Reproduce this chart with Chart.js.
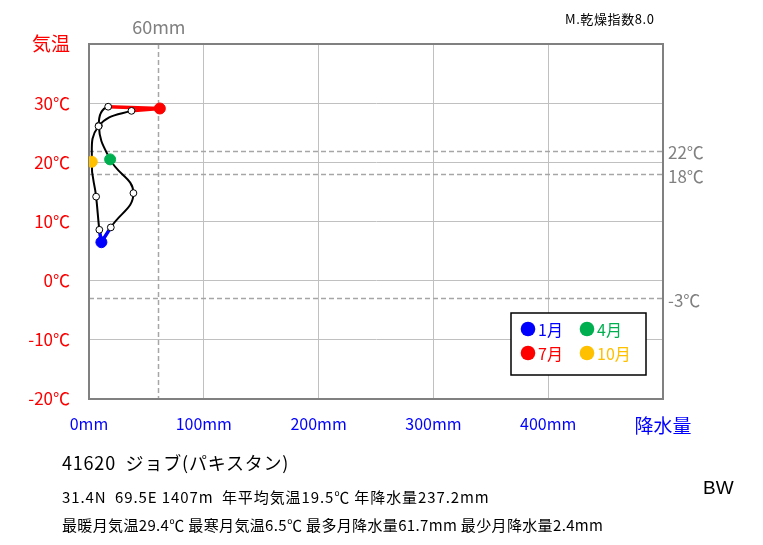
<!DOCTYPE html>
<html><head><meta charset="utf-8">
<script src="https://cdn.jsdelivr.net/npm/chart.js@4"></script>
<style>
html,body{margin:0;padding:0;background:#fff;}
#wrap{position:relative;width:763px;height:545px;overflow:hidden;}
canvas{position:absolute;left:0;top:0;}
.t{position:absolute;white-space:nowrap;font-family:'Noto Sans CJK JP',sans-serif;color:#000;line-height:1;}
</style></head><body>
<div id="wrap">
<canvas id="c" width="763" height="545"></canvas>
<div class="t" style="left:565px;top:12px;font-size:13px;letter-spacing:0.6px;">M.乾燥指数8.0</div>
<div class="t" style="left:62px;top:453px;font-size:18px;letter-spacing:0.8px;">41620&nbsp;&nbsp;ジョブ(パキスタン)</div>
<div class="t" style="left:62px;top:489px;font-size:15px;letter-spacing:0.9px;">31.4N&nbsp;&nbsp;69.5E 1407m&nbsp;&nbsp;年平均気温19.5℃ 年降水量237.2mm</div>
<div class="t" style="left:62px;top:517px;font-size:15px;letter-spacing:0.35px;">最暖月気温29.4℃ 最寒月気温6.5℃ 最多月降水量61.7mm 最少月降水量2.4mm</div>
<div class="t" style="left:703px;top:478px;font-size:19px;font-family:'Liberation Sans',Arial,sans-serif;">BW</div>
</div>
<script>
const months = ['1月','2月','3月','4月','5月','6月','7月','8月','9月','10月','11月','12月'];
const precip = [10.8, 19.0, 38.7, 18.4, 8.6, 16.7, 61.7, 37.0, 8.3, 2.4, 6.2, 9.0];
const temp   = [6.5, 9.0, 14.8, 20.5, 26.2, 29.4, 29.1, 28.7, 26.1, 20.1, 14.2, 8.6];
const xTickValues = [0, 100, 200, 300, 400, 500];
const xTickLabels = ['0mm', '100mm', '200mm', '300mm', '400mm', '降水量'];
const yTickValues = [-20, -10, 0, 10, 20, 30, 40];
const yTickLabels = ['-20℃', '-10℃', '0℃', '10℃', '20℃', '30℃', '気温'];
const refTemps = [22, 18, -3];
const refTempLabels = ['22℃', '18℃', '-3℃'];
const refPrecip = 60;
const refPrecipLabel = '60mm';
const legendMonths = [0, 3, 6, 9];
const monthColors = {0: '#0000ff', 3: '#00b050', 6: '#ff0000', 9: '#ffc000'};

const FONT = "'Noto Sans CJK JP', sans-serif";
const pts = precip.map((p, i) => ({x: p, y: temp[i]}));
const curveA = [0,1,2,3,4,5,6].map(i => pts[i]);
const curveB = [6,7,8,9,10,11,0].map(i => pts[i]);
const redSeg = [5,6,7].map(i => pts[i]);
const blueSeg = [11,0,1].map(i => pts[i]);
const hideEnds = ctx => (ctx.p0DataIndex === 0 || ctx.p1DataIndex === 6) ? 'rgba(0,0,0,0)' : '#000';

const overlay = {
  id: 'overlay',
  beforeDatasetsDraw(chart) {
    const {ctx, chartArea: a, scales: {x, y}} = chart;
    ctx.save();
    ctx.strokeStyle = '#a6a6a6';
    ctx.lineWidth = 1.5;
    ctx.setLineDash([5, 3]);
    const px = Math.round(x.getPixelForValue(refPrecip)) + 0.5;
    ctx.beginPath(); ctx.moveTo(px, a.top); ctx.lineTo(px, a.bottom); ctx.stroke();
    refTemps.forEach(t => {
      const py = Math.round(y.getPixelForValue(t)) + 0.5;
      ctx.beginPath(); ctx.moveTo(a.left, py); ctx.lineTo(a.right, py); ctx.stroke();
    });
    ctx.setLineDash([]);
    ctx.strokeStyle = '#808080';
    ctx.lineWidth = 2;
    ctx.strokeRect(a.left, a.top, a.right - a.left, a.bottom - a.top);
    ctx.restore();
  },
  afterDraw(chart) {
    const {ctx, chartArea: a, scales: {x, y}} = chart;
    ctx.save();
    ctx.fillStyle = '#808080';
    ctx.font = '18px ' + FONT;
    ctx.textBaseline = 'middle';
    ctx.textAlign = 'center';
    ctx.fillText(refPrecipLabel, x.getPixelForValue(refPrecip) + 1, a.top - 17);
    ctx.textAlign = 'left';
    ctx.font = '17px ' + FONT;
    refTemps.forEach((t, i) => {
      ctx.fillText(refTempLabels[i], a.right + 5, y.getPixelForValue(t) + 2);
    });
    // legend
    const lx = 511, ly = 313, lw = 135, lh = 62;
    ctx.fillStyle = '#fff';
    ctx.fillRect(lx, ly, lw, lh);
    ctx.strokeStyle = '#000';
    ctx.lineWidth = 1.5;
    ctx.strokeRect(lx, ly, lw, lh);
    ctx.font = '16px ' + FONT;
    legendMonths.forEach((m, k) => {
      const cx = lx + 17 + (k % 2) * 59;
      const cy = ly + 16 + Math.floor(k / 2) * 24;
      ctx.fillStyle = monthColors[m];
      ctx.beginPath(); ctx.arc(cx, cy, 7.3, 0, Math.PI * 2); ctx.fill();
      ctx.fillText(months[m], cx + 10, cy + 1);
    });
    ctx.restore();
  }
};

new Chart(document.getElementById('c'), {
  type: 'scatter',
  data: {
    datasets: [
      {
        data: pts, showLine: false, order: 0,
        pointRadius: pts.map((p, i) => monthColors[i] ? 5.5 : 3.4),
        pointBackgroundColor: pts.map((p, i) => monthColors[i] || '#fff'),
        pointBorderColor: pts.map((p, i) => monthColors[i] || '#000'),
        pointBorderWidth: 1
      },
      {data: redSeg, showLine: true, tension: 0, borderColor: '#ff0000', borderWidth: 3.5, pointRadius: 0, order: 1},
      {data: blueSeg, showLine: true, tension: 0, borderColor: '#0000ff', borderWidth: 3.5, pointRadius: 0, order: 1},
      {data: curveA, showLine: true, tension: 0.45, borderColor: '#000', borderWidth: 2, pointRadius: 0, order: 2,
       segment: {borderColor: hideEnds}},
      {data: curveB, showLine: true, tension: 0.45, borderColor: '#000', borderWidth: 2, pointRadius: 0, order: 2,
       segment: {borderColor: hideEnds}}
    ]
  },
  options: {
    responsive: false,
    animation: false,
    events: [],
    layout: {padding: {left: 0, right: 100, top: 44, bottom: 96}},
    plugins: {legend: {display: false}, tooltip: {enabled: false}},
    scales: {
      x: {
        type: 'linear', min: 0, max: 500,
        afterBuildTicks: s => { s.ticks = xTickValues.map(v => ({value: v})); },
        afterFit: s => { s.height = 50; },
        ticks: {
          autoSkip: false, maxRotation: 0, padding: 15, color: '#0000ff',
          font: c => ({family: FONT, size: (c.tick && c.tick.value === 500) ? 19 : 16}),
          callback: v => xTickLabels[xTickValues.indexOf(v)]
        },
        grid: {color: '#c0c0c0', lineWidth: 1, drawTicks: false},
        border: {color: '#808080', width: 2}
      },
      y: {
        type: 'linear', min: -20, max: 40,
        afterBuildTicks: s => { s.ticks = yTickValues.map(v => ({value: v})); },
        afterFit: s => { s.width = 89; },
        ticks: {
          autoSkip: false, padding: 19, color: '#ff0000',
          font: c => ({family: FONT, size: (c.tick && c.tick.value === 40) ? 19 : 17}),
          callback: v => yTickLabels[yTickValues.indexOf(v)]
        },
        grid: {color: '#c0c0c0', lineWidth: 1, drawTicks: false},
        border: {color: '#808080', width: 2}
      }
    }
  },
  plugins: [overlay]
});
</script>
</body></html>
